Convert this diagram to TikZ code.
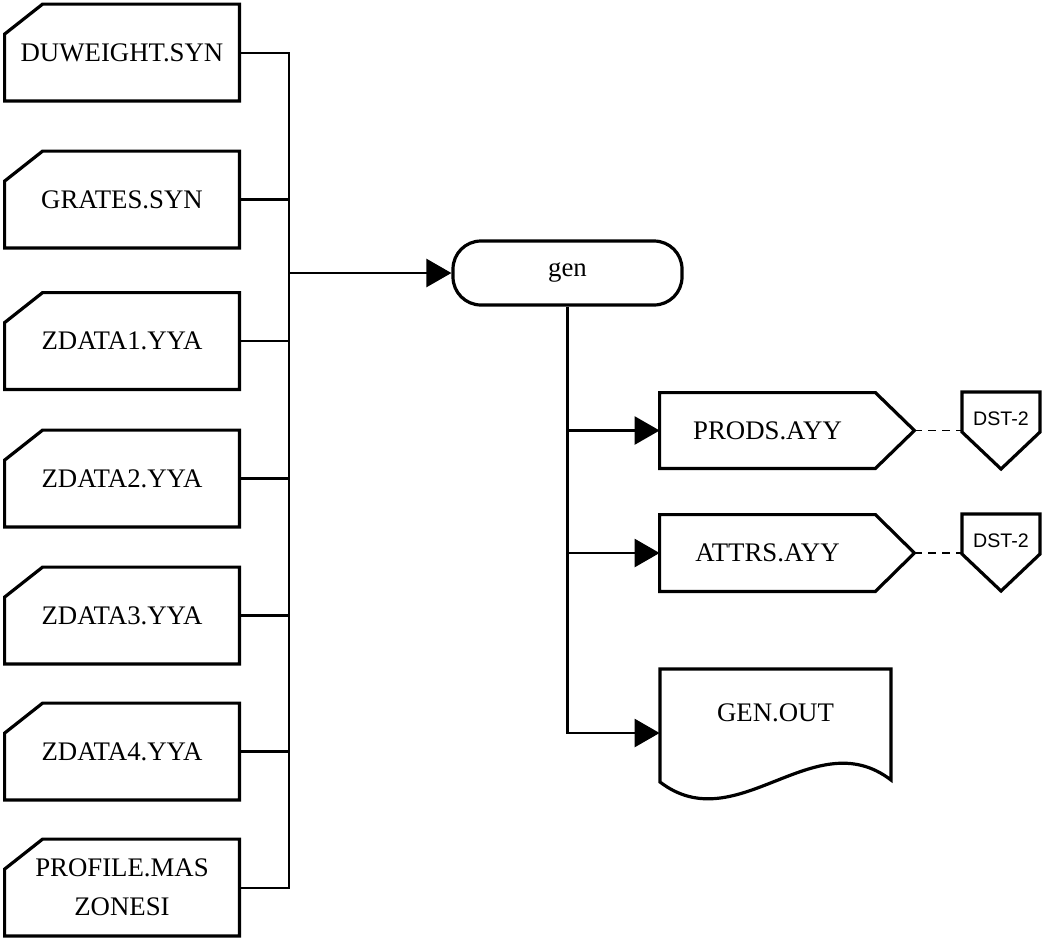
\documentclass[tikz,border=0pt]{standalone}
\usepackage{fontspec}
\setmainfont{Liberation Serif}
\newfontfamily\dstfont{Liberation Sans}
\usetikzlibrary{arrows.meta}
\begin{document}
\begin{tikzpicture}[x=0.5pt,y=-0.5pt,
  txt/.style={inner sep=0pt, font=\fontsize{13.4pt}{19.5pt}\selectfont, align=center},
  inbox/.style={txt, minimum width=117pt, minimum height=48pt},
  outline/.style={draw=black, line width=1.6pt, line join=miter},
  conn/.style={draw=black, line width=1.3pt},
  busline/.style={draw=black, line width=1pt},
  arr/.style={conn, -{Triangle[length=12.5pt,width=14pt]}},
  dstbox/.style={inner sep=0pt, font=\dstfont\fontsize{9.8pt}{11pt}\selectfont, minimum width=39pt},
  dashlink/.style={draw=black, line width=0.7pt, dash pattern=on 4pt off 3pt}]
\fill[white] (0,0) rectangle (1042,938);
\useasboundingbox (0,0) rectangle (1042,938);

% input files
\node[inbox] (dw) at (122,52.5)  {DUWEIGHT.SYN};
\node[inbox] (gr) at (122,199.5) {GRATES.SYN};
\node[inbox] (z1) at (122,341)   {ZDATA1.YYA};
\node[inbox] (z2) at (122,478.5) {ZDATA2.YYA};
\node[inbox] (z3) at (122,615.5) {ZDATA3.YYA};
\node[inbox] (z4) at (122,751.5) {ZDATA4.YYA};
\node[inbox] (pf) at (122,887.5) {PROFILE.MAS\\ZONESI};
\foreach \n in {dw,gr,z1,z2,z3,z4,pf}{
  \draw[outline] ([yshift=-15pt]\n.north west) -- ([xshift=19pt]\n.north west)
    -- (\n.north east) -- (\n.south east) -- (\n.south west) -- cycle;
}

% process
\node[txt, draw=black, line width=1.6pt, rounded corners=14pt,
      minimum width=114.5pt, minimum height=32pt] (gen) at (567.5,273) {gen};

% bus
\coordinate (bus) at (289,273);
\draw[busline] (dw.east) -| (bus |- pf.east) -- (pf.east);
\foreach \n in {gr,z1,z2,z3,z4}{
  \draw[conn] (\n.east) -- (\n.east -| bus);
}
\draw[arr] (bus) -- (gen.west);

% outputs
\node[txt, minimum width=107.5pt, minimum height=37.5pt] (pr) at (767.5,430.5) {PRODS.AYY};
\node[txt, minimum width=107.5pt, minimum height=38pt] (at) at (767.5,553) {ATTRS.AYY};
\foreach \n in {pr,at}{
  \draw[outline] (\n.north west) -- (\n.north east) -- ([xshift=19.5pt]\n.east)
    -- (\n.south east) -- (\n.south west) -- cycle;
}
\coordinate (prtip) at ([xshift=19.5pt]pr.east);
\coordinate (attip) at ([xshift=19.5pt]at.east);

\node[txt, minimum width=115.5pt] (go) at (775.5,713) {GEN.OUT};
\draw[outline] (660,669) -- (891,669) -- (891,780)
   .. controls (814,721) and (737,841) .. (660,782) -- cycle;

% off-page connectors
\node[dstbox] (d1) at (1001,419) {DST-2};
\node[dstbox] (d2) at (1001,541) {DST-2};
\foreach \n in {d1,d2}{
  \draw[outline] ([shift={(-39,-27)}]\n.center) -- ([shift={(39,-27)}]\n.center)
    -- ([shift={(39,13)}]\n.center) -- ([shift={(0,50)}]\n.center)
    -- ([shift={(-39,13)}]\n.center) -- cycle;
}
\draw[dashlink] (prtip) -- (prtip -| d1.west);
\draw[dashlink] (attip) -- (attip -| d2.west);

% process to outputs
\draw[arr] (gen.south) |- ([yshift=-10pt]go.west);
\draw[arr] (pr.west -| gen.south) -- (pr.west);
\draw[arr] (at.west -| gen.south) -- (at.west);
\end{tikzpicture}
\end{document}
